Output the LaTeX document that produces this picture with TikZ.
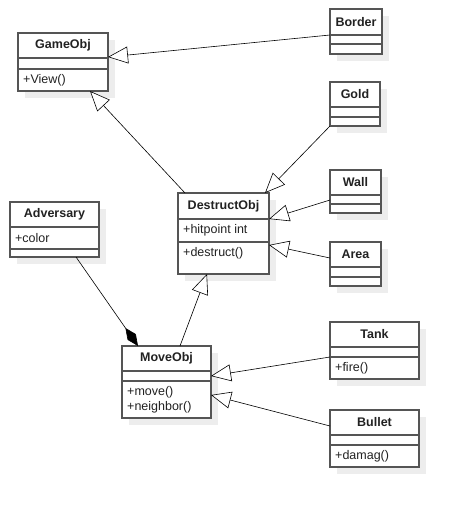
\documentclass[tikz,border=0pt]{standalone}
\usepackage{fontspec}
\setmainfont{Liberation Sans}
\usetikzlibrary{arrows.meta}
\definecolor{boxc}{HTML}{555555}
\definecolor{shadc}{HTML}{EDEDED}
\definecolor{txtc}{HTML}{222222}
\tikzset{
  classbox/.style={draw=boxc, line width=1.2pt, fill=white, inner sep=0pt, outer sep=0pt},
  boxline/.style={draw=boxc, line width=1.2pt},
  classtitle/.style={font=\fontsize{12.5}{15}\selectfont\bfseries, text=txtc, inner sep=0pt},
  member/.style={font=\fontsize{12.5}{15}\selectfont, text=txtc, inner sep=0pt, anchor=west, align=left},
  inherit/.style={line width=0.6pt, -{Triangle[open, length=20pt, width=17pt, fill=white]}},
  compose/.style={line width=0.6pt, -{Diamond[length=22pt, width=10pt, fill=black]}},
}
\newcommand{\umlbox}[8]{%
  \fill[shadc] (#2+7,#3+7) rectangle (#4+7,#5+7);
  \node[classbox, anchor=north west, minimum width={(#4-#2)*1pt}, minimum height={(#5-#3)*1pt}] (#1) at (#2,#3) {};
  \draw[boxline] (#2,#6) -- (#4,#6) (#2,#7) -- (#4,#7);
  \node[classtitle] (#1-t) at ({(#2+#4)/2},{(#3+#6)/2}) {#8};
}
\begin{document}
\begin{tikzpicture}[x=1pt,y=-1pt]
\useasboundingbox (0,0) rectangle (459,507);
\umlbox{gameobj}{18}{33}{108}{91}{58}{69}{GameObj}
\node[member] (gameobj-o) at (23,80) {+View()};
\umlbox{border}{330}{9}{382}{54}{35}{44}{Border}
\umlbox{gold}{330}{82}{380}{126}{107}{117}{Gold}
\umlbox{wall}{330}{170}{381}{213}{195}{204}{Wall}
\umlbox{area}{330}{242}{381}{286}{267}{277}{Area}
\umlbox{destruct}{178}{193}{269}{274}{219}{242}{DestructObj}
\node[member] (destruct-a) at (183,230.5) {+hitpoint int};
\node[member] (destruct-o) at (183,253) {+destruct()};
\umlbox{adversary}{10}{202}{99}{257}{227}{249}{Adversary}
\node[member] (adversary-a) at (15,238) {+color};
\umlbox{moveobj}{122}{346}{211}{418}{371}{381}{MoveObj}
\node[member] (moveobj-o) at (127,399.5) {+move()\\+neighbor()};
\umlbox{tank}{330}{322}{419}{379}{347}{357}{Tank}
\node[member] (tank-o) at (335,368) {+fire()};
\umlbox{bullet}{330}{410}{419}{467}{435}{445}{Bullet}
\node[member] (bullet-o) at (335,456) {+damag()};

\draw[inherit] ([yshift=-3.5pt]border.west) -- ([yshift=5pt]gameobj.east);
\draw[inherit] ([xshift=7pt]destruct.north west) -- ([xshift=-18pt]gameobj.south east);
\draw[inherit] (gold.south west) -- ([xshift=-4pt]destruct.north east);
\draw[inherit] ([yshift=-8.5pt]wall.west) -- ([yshift=14.5pt]destruct.east);
\draw[inherit] ([yshift=6pt]area.west) -- ([yshift=-11.5pt]destruct.east);
\draw[inherit] ([xshift=13.5pt]moveobj.north) -- ([xshift=-16.5pt]destruct.south);
\draw[compose] ([xshift=21.5pt]adversary.south) -- ([xshift=16pt]moveobj.north west);
\draw[inherit] ([yshift=-6.5pt]tank.west) -- ([yshift=6pt]moveobj.east);
\draw[inherit] ([yshift=12.5pt]bullet.west) -- ([yshift=-13pt]moveobj.east);
\end{tikzpicture}
\end{document}
